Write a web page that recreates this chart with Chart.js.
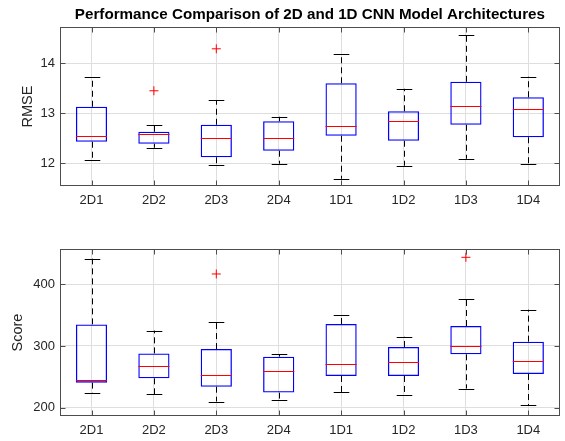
<!DOCTYPE html>
<html>
<head>
<meta charset="utf-8">
<script src="https://cdn.jsdelivr.net/npm/chart.js@4.4.1/dist/chart.umd.min.js"></script>
<style>
  html, body { margin: 0; padding: 0; background: #fff; }
  .wrap { width: 565px; position: relative; }
  canvas { display: block; }
</style>
</head>
<body>
<div class="wrap">
  <canvas id="rmse-chart" width="565" height="220"></canvas>
  <canvas id="score-chart" width="565" height="221"></canvas>
</div>
<script>
// Dados (boxplots estilo MATLAB)
const categorias = ['2D1', '2D2', '2D3', '2D4', '1D1', '1D2', '1D3', '1D4'];

// RMSE
const rmseMin = [12.06, 12.31, 11.97, 11.99, 11.69, 11.95, 12.09, 11.98];
const rmseQ1 = [12.43, 12.39, 12.12, 12.25, 12.55, 12.45, 12.77, 12.52];
const rmseMediana = [12.55, 12.58, 12.51, 12.51, 12.75, 12.85, 13.15, 13.09];
const rmseQ3 = [13.13, 12.63, 12.77, 12.84, 13.60, 13.04, 13.63, 13.32];
const rmseMax = [13.73, 12.76, 13.26, 12.93, 14.18, 13.49, 14.57, 13.73];
const rmseOutlierCat = ['2D2', '2D3'];
const rmseOutlierVal = [13.45, 14.29];
const rmseTicks = [12, 13, 14];

// Score
const scoreMin = [224, 222, 210, 212, 225, 220.6, 231, 204];
const scoreQ1 = [240.6, 247.6, 234, 224.4, 251.4, 251.4, 286.5, 254.6];
const scoreMediana = [244.4, 267, 253.5, 259, 270.3, 273.5, 300.5, 275.7];
const scoreQ3 = [335, 288, 295, 282.7, 335.7, 298.4, 332.4, 307];
const scoreMax = [441.5, 325, 338.4, 286.5, 349.7, 315, 376.7, 358.8];
const scoreOutlierCat = ['2D3', '1D3'];
const scoreOutlierVal = [416.7, 443.7];
const scoreTicks = [200, 300, 400];

const FONTE = "'Liberation Sans', Arial, Helvetica, sans-serif";
const COR_TEXTO = '#262626';
const COR_EIXO = '#4d4d4d';
const COR_GRADE = '#dedede';

// Plugin que desenha bigodes, medianas e moldura usando as escalas do Chart.js
const boxExtras = {
    id: 'boxExtras',
    beforeDatasetsDraw(chart, args, opts) {
        const { ctx, scales: { x, y } } = chart;
        const passo = x.getPixelForValue(1) - x.getPixelForValue(0);
        const meiaTampa = passo * 0.125;
        ctx.save();
        ctx.strokeStyle = '#000';
        ctx.lineWidth = 1;
        categorias.forEach((c, i) => {
            const px = Math.round(x.getPixelForValue(i)) + 0.5;
            const yMin = y.getPixelForValue(opts.min[i]);
            const yQ1 = y.getPixelForValue(opts.q1[i]);
            const yQ3 = y.getPixelForValue(opts.q3[i]);
            const yMax = y.getPixelForValue(opts.max[i]);
            // linhas tracejadas
            ctx.setLineDash([6, 4]);
            ctx.beginPath();
            ctx.moveTo(px, yQ3);
            ctx.lineTo(px, yMax);
            ctx.moveTo(px, yQ1);
            ctx.lineTo(px, yMin);
            ctx.stroke();
            // tampas
            ctx.setLineDash([]);
            ctx.beginPath();
            ctx.moveTo(px - meiaTampa, Math.round(yMax) + 0.5);
            ctx.lineTo(px + meiaTampa, Math.round(yMax) + 0.5);
            ctx.moveTo(px - meiaTampa, Math.round(yMin) + 0.5);
            ctx.lineTo(px + meiaTampa, Math.round(yMin) + 0.5);
            ctx.stroke();
        });
        ctx.restore();
    },
    afterDatasetsDraw(chart, args, opts) {
        const { ctx, scales: { x, y } } = chart;
        const passo = x.getPixelForValue(1) - x.getPixelForValue(0);
        const meiaCaixa = passo * 0.25;
        ctx.save();
        ctx.strokeStyle = '#ff0000';
        ctx.lineWidth = 1;
        categorias.forEach((c, i) => {
            const px = x.getPixelForValue(i);
            const py = Math.round(y.getPixelForValue(opts.mediana[i])) + 0.5;
            ctx.beginPath();
            ctx.moveTo(px - meiaCaixa, py);
            ctx.lineTo(px + meiaCaixa, py);
            ctx.stroke();
        });
        ctx.restore();
    },
    afterDraw(chart) {
        const { ctx, chartArea: a, scales: { x, y } } = chart;
        const l = Math.round(a.left) + 0.5, r = Math.round(a.right) - 0.5;
        const t = Math.round(a.top) + 0.5, b = Math.round(a.bottom) - 0.5;
        ctx.save();
        ctx.strokeStyle = COR_EIXO;
        ctx.lineWidth = 1;
        ctx.strokeRect(l, t, r - l, b - t);
        ctx.beginPath();
        y.ticks.forEach(tk => {
            const py = Math.round(y.getPixelForValue(tk.value)) + 0.5;
            ctx.moveTo(l, py); ctx.lineTo(l + 5, py);
            ctx.moveTo(r, py); ctx.lineTo(r - 5, py);
        });
        categorias.forEach((c, i) => {
            const px = Math.round(x.getPixelForValue(i)) + 0.5;
            ctx.moveTo(px, t); ctx.lineTo(px, t + 5);
            ctx.moveTo(px, b); ctx.lineTo(px, b - 5);
        });
        ctx.stroke();
        ctx.restore();
    }
};

function criarBoxplot(canvasId, cfg) {
    const ctx = document.getElementById(canvasId).getContext('2d');
    return new Chart(ctx, {
        type: 'bar',
        data: {
            labels: categorias,
            datasets: [{
                label: 'caixa',
                data: cfg.q1.map((v, i) => [v, cfg.q3[i]]),
                backgroundColor: 'rgba(0,0,0,0)',
                borderColor: '#0000ff',
                borderWidth: 1.3,
                borderSkipped: false,
                barPercentage: 0.5,
                categoryPercentage: 1
            }, {
                type: 'scatter',
                label: 'outliers',
                data: cfg.outCat.map((c, i) => ({ x: c, y: cfg.outVal[i] })),
                pointStyle: 'cross',
                radius: 4.5,
                borderColor: '#ff0000',
                borderWidth: 1
            }]
        },
        options: {
            responsive: false,
            animation: false,
            layout: { padding: { top: cfg.padTop, right: 1.5, left: 0, bottom: 0 } },
            plugins: {
                legend: { display: false },
                tooltip: { enabled: false },
                title: cfg.titulo ? {
                    display: true,
                    text: cfg.titulo,
                    fullSize: false,
                    color: '#000',
                    font: { family: FONTE, size: 15.2, weight: 'bold' },
                    padding: { top: 6, bottom: 3.1 }
                } : { display: false },
                boxExtras: {
                    min: cfg.min, q1: cfg.q1, mediana: cfg.mediana, q3: cfg.q3, max: cfg.max
                }
            },
            scales: {
                x: {
                    type: 'category',
                    offset: true,
                    grid: { color: COR_GRADE, offset: false, drawTicks: false },
                    border: { display: false },
                    ticks: {
                        color: COR_TEXTO, padding: 6.5, maxRotation: 0, autoSkip: false,
                        font: { family: FONTE, size: 13 }
                    },
                    afterFit: s => { s.height = cfg.alturaX; }
                },
                y: {
                    min: cfg.yMin,
                    max: cfg.yMax,
                    grid: { color: COR_GRADE, drawTicks: false },
                    border: { display: false },
                    ticks: {
                        color: COR_TEXTO, padding: 5.3,
                        font: { family: FONTE, size: 13 }
                    },
                    afterBuildTicks: s => { s.ticks = cfg.ticks.map(v => ({ value: v })); },
                    afterFit: s => { s.width = 60.3; },
                    title: {
                        display: true,
                        text: cfg.rotuloY,
                        color: COR_TEXTO,
                        font: { family: FONTE, size: 14.5 },
                        padding: { top: cfg.padTitulo, bottom: 0 }
                    }
                }
            }
        },
        plugins: [boxExtras]
    });
}

criarBoxplot('rmse-chart', {
    min: rmseMin, q1: rmseQ1, mediana: rmseMediana, q3: rmseQ3, max: rmseMax,
    outCat: rmseOutlierCat, outVal: rmseOutlierVal, ticks: rmseTicks,
    yMin: 11.55, yMax: 14.72, rotuloY: 'RMSE', padTitulo: 19.3,
    titulo: 'Performance Comparison of 2D and 1D CNN Model Architectures',
    padTop: 0, alturaX: 34.3
});

criarBoxplot('score-chart', {
    min: scoreMin, q1: scoreQ1, mediana: scoreMediana, q3: scoreQ3, max: scoreMax,
    outCat: scoreOutlierCat, outVal: scoreOutlierVal, ticks: scoreTicks,
    yMin: 187, yMax: 456.7, rotuloY: 'Score', padTitulo: 9.6,
    titulo: null, padTop: 29.3, alturaX: 25.3
});
</script>
</body>
</html>
